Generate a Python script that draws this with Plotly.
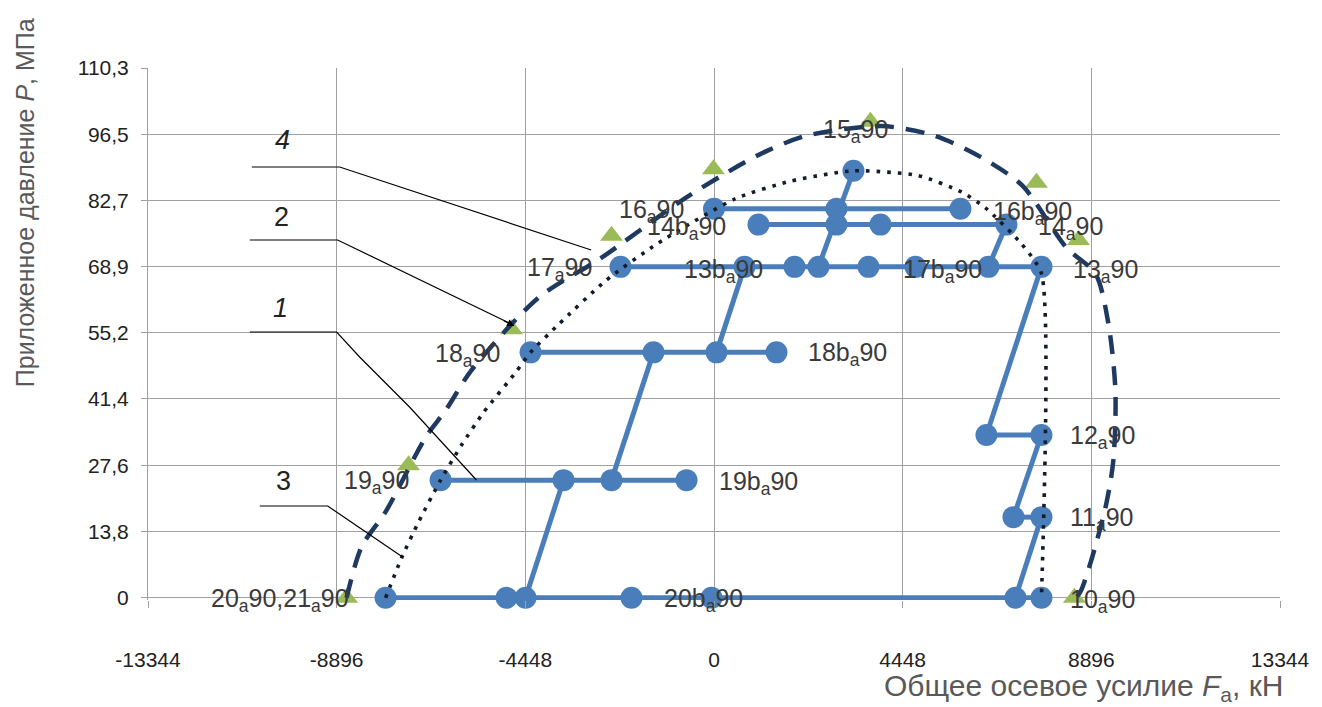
import plotly.graph_objects as go

# ---------------- data (F in kN, P in MPa) ----------------
# load path rows: pressure level and axial-force points on that level
P_row0 = 0.0
F_row0 = [-7743, -4891, -4443, -1945, -59, 7107, 7720]
P_row11 = 16.8
F_row11 = [7060, 7720]
P_row12 = 33.9
F_row12 = [6423, 7720]
P_row19 = 24.5
F_row19 = [-6446, -3547, -2416, -648]
P_row18 = 51.1
F_row18 = [-4325, -1426, 59, 1473]
P_row13 = 68.9
F_row13 = [-2204, 719, 1898, 2463, 3641, 4749, 6470, 7720]
P_row14 = 77.7
F_row14 = [1049, 2887, 3924, 6894]
P_row16 = 81.0
F_row16 = [0, 2887, 5810]
P_row15 = 88.9
F_row15 = [3288]

# connecting segments of the load path
conn_F = [[-4443, -3547], [-2416, -1426], [59, 719], [2463, 3288],
          [6470, 6894], [7107, 7720], [7060, 7720], [6423, 7720]]
conn_P = [[0, 24.5], [24.5, 51.1], [51.1, 68.9], [68.9, 88.9],
          [68.9, 77.7], [0, 16.8], [16.8, 33.9], [33.9, 68.9]]

# curve 2: triangles
tri_F = [-8662, -7200, -4774, -2416, -12, 3688, 7602, 8592, 8497]
tri_P = [0, 27.6, 55.9, 75.4, 89.2, 99.1, 86.4, 74.5, 0]

# curve 4: dashed envelope
env4_F = [-8662, -8309, -7743, -6800, -6329, -5716, -4137, -2652, -766, 412,
          1237, 2180, 3948, 5197, 6281, 7271, 8308, 8992, 9298, 9463, 9416,
          9251, 8945, 8662, 8540]
env4_P = [0, 10.6, 17.9, 33.4, 39.0, 47.4, 62.5, 70.8, 82.7, 89.1,
          93.0, 96.2, 98.2, 96.2, 91.8, 85.8, 72.9, 67.5, 57.1, 43.2, 28.7,
          19.7, 9.3, 1.7, 0]

# curve 3: dotted envelope
env3_F = [-7743, -7366, -6965, -6446, -5952, -5433, -4679, -4325, -3666, -2557,
          -1308, 507, 1827, 3288, 4820, 5834, 6400, 7248, 7720, 7720]
env3_P = [0, 8.3, 15.8, 24.5, 31.8, 38.6, 46.9, 51.1, 56.9, 66.0,
          73.9, 83.1, 86.8, 88.9, 87.9, 84.5, 81.2, 73.7, 67.5, 0]

# axis ticks
x_ticks = [-13344, -8896, -4448, 0, 4448, 8896, 13344]
x_ticktext = ["-13344", "-8896", "-4448", "0", "4448", "8896", "13344"]
y_ticks = [0, 13.8, 27.6, 41.4, 55.2, 68.9, 82.7, 96.5, 110.3]
y_ticktext = ["0", "13,8", "27,6", "41,4", "55,2", "68,9", "82,7", "96,5", "110,3"]

# ---------------- styles ----------------
BLUE = "#4a7ebb"
NAVY = "#1f3a60"
DOT = "#141c2c"
GREEN = "#9bbb59"
FONT = "Liberation Sans, Arial, sans-serif"
LBL_COLOR = "#3a3a3a"

fig = go.Figure()

rows = [(F_row0, P_row0), (F_row11, P_row11), (F_row12, P_row12), (F_row19, P_row19),
        (F_row18, P_row18), (F_row13, P_row13), (F_row14, P_row14), (F_row16, P_row16)]
for fx, pv in rows:
    fig.add_trace(go.Scatter(x=fx, y=[pv] * len(fx), mode="lines+markers",
                             line=dict(color=BLUE, width=5),
                             marker=dict(color=BLUE, size=22),
                             cliponaxis=False, showlegend=False, hoverinfo="skip"))
for cf, cp in zip(conn_F, conn_P):
    fig.add_trace(go.Scatter(x=cf, y=cp, mode="lines", line=dict(color=BLUE, width=5),
                             cliponaxis=False, showlegend=False, hoverinfo="skip"))
fig.add_trace(go.Scatter(x=F_row15, y=[P_row15] * len(F_row15), mode="markers",
                         marker=dict(color=BLUE, size=22), cliponaxis=False,
                         showlegend=False, hoverinfo="skip"))

fig.add_trace(go.Scatter(x=tri_F, y=tri_P, mode="markers",
                         marker=dict(symbol="triangle-up", color=GREEN, size=20),
                         cliponaxis=False, showlegend=False, hoverinfo="skip"))
fig.add_trace(go.Scatter(x=env4_F, y=env4_P, mode="lines",
                         line=dict(color=NAVY, width=4.5, dash="19px,12px", shape="spline", smoothing=0.8),
                         cliponaxis=False, showlegend=False, hoverinfo="skip"))
fig.add_trace(go.Scatter(x=env3_F, y=env3_P, mode="lines",
                         line=dict(color=DOT, width=3.6, dash="3.6px,7px", shape="spline", smoothing=0.6),
                         cliponaxis=False, showlegend=False, hoverinfo="skip"))

# ---------------- point labels ----------------
S = "<sub>a</sub>"
labels = [
    ("20" + S + "90,21" + S + "90", F_row0[0], P_row0, "right", -35, -2),
    ("20b" + S + "90", F_row0[4], P_row0, "center", -8, -2),
    ("10" + S + "90", F_row0[6], P_row0, "left", 27, -3),
    ("11" + S + "90", F_row11[1], P_row11, "left", 27, -2),
    ("12" + S + "90", F_row12[1], P_row12, "left", 27, -2),
    ("13" + S + "90", F_row13[7], P_row13, "left", 30, -4),
    ("14" + S + "90", F_row14[3], P_row14, "left", 30, -3),
    ("16b" + S + "90", F_row16[2], P_row16, "left", 31, -4),
    ("17b" + S + "90", F_row13[4], P_row13, "left", 33, -4),
    ("13b" + S + "90", F_row13[1], P_row13, "center", -21, -4),
    ("14b" + S + "90", F_row14[0], P_row14, "right", -30, -3),
    ("16" + S + "90", F_row16[0], P_row16, "right", -28, -2),
    ("17" + S + "90", F_row13[0], P_row13, "right", -27, -2),
    ("18" + S + "90", F_row18[0], P_row18, "right", -29, -3),
    ("18b" + S + "90", F_row18[3], P_row18, "left", 30, -2),
    ("19" + S + "90", F_row19[0], P_row19, "right", -30, -2),
    ("19b" + S + "90", F_row19[3], P_row19, "left", 30, -3),
    ("15" + S + "90", F_row15[0], P_row15, "center", 2, 40),
]
annotations = []
for txt, fx, pv, anc, dx, dy in labels:
    annotations.append(dict(x=fx, y=pv, xref="x", yref="y", text=txt, showarrow=False,
                            xanchor=anc, yanchor="middle", xshift=dx, yshift=dy,
                            font=dict(family=FONT, size=25, color=LBL_COLOR)))

# ---------------- leader lines with curve numbers (pixel layout) ----------------
L, T, W, H = 148, 68, 1134, 532


def pp(px, py):
    return (px - L) / W, (T + H - py) / H


def path(points):
    s = ""
    for i, (px, py) in enumerate(points):
        x, y = pp(px, py)
        s += ("M" if i == 0 else " L") + f"{x:.5f},{y:.5f}"
    return s


leaders = [
    [(252, 167), (340, 167), (592, 250)],
    [(250, 240), (338, 240), (512, 324)],
    [(250, 332), (337, 332), (360, 357), (410, 407), (477, 480)],
    [(260, 506), (328, 506), (403, 557)],
]
shapes = [dict(type="path", xref="paper", yref="paper", path=path(p),
               line=dict(color="black", width=1.2)) for p in leaders]
tx, ty = pp(515, 326)
annotations.append(dict(x=tx, y=ty, xref="paper", yref="paper", ax=-12, ay=-6,
                        text="", showarrow=True, arrowhead=2, arrowsize=1.2,
                        arrowwidth=1.2, arrowcolor="black"))
for num, (px, py), it in [("4", (283, 140), True), ("2", (282, 217), False),
                          ("1", (281, 308), True), ("3", (284, 481), False)]:
    x, y = pp(px, py)
    annotations.append(dict(x=x, y=y, xref="paper", yref="paper", showarrow=False,
                            text=("<i>%s</i>" % num) if it else num,
                            font=dict(family=FONT, size=27, color="#222"),
                            xanchor="center", yanchor="middle"))

# axis titles
x, y = pp(25, 203)
annotations.append(dict(x=x, y=y, xref="paper", yref="paper", showarrow=False,
                        text="Приложенное давление <i>P</i>, МПа", textangle=-90,
                        font=dict(family=FONT, size=25, color="#595959"),
                        xanchor="center", yanchor="middle"))
x, y = pp(1085, 688)
annotations.append(dict(x=x, y=y, xref="paper", yref="paper", showarrow=False,
                        text="Общее осевое усилие <i>F</i><sub>a</sub>, кН",
                        font=dict(family=FONT, size=30, color="#595959"),
                        xanchor="center", yanchor="middle"))

fig.update_layout(
    width=1322, height=707,
    margin=dict(l=L, r=1322 - L - W, t=T, b=707 - T - H),
    paper_bgcolor="white", plot_bgcolor="white",
    showlegend=False,
    annotations=annotations, shapes=shapes,
    xaxis=dict(range=[-13344, 13344], tickvals=x_ticks, ticktext=x_ticktext,
               showgrid=True, gridcolor="#a0a0a0", gridwidth=1,
               zeroline=False, showline=False,
               ticks="outside", ticklen=7, tickcolor="#a0a0a0",
               ticklabelstandoff=34,
               tickfont=dict(family=FONT, size=21, color="#222")),
    yaxis=dict(range=[-0.45, 110.3], tickvals=y_ticks, ticktext=y_ticktext,
               showgrid=True, gridcolor="#a0a0a0", gridwidth=1,
               zeroline=True, zerolinecolor="#a0a0a0", zerolinewidth=1,
               showline=True, linecolor="#a0a0a0", linewidth=1,
               ticks="outside", ticklen=6, tickcolor="#a0a0a0",
               ticklabelstandoff=8,
               tickfont=dict(family=FONT, size=21, color="#222")),
)

fig.write_html("out.html", config={"displayModeBar": False})
with open("out.html", encoding="utf-8") as f:
    html = f.read()
html = html.replace("<body>", '<body style="margin:0;padding:0;overflow:hidden">', 1)
with open("out.html", "w", encoding="utf-8") as f:
    f.write(html)
